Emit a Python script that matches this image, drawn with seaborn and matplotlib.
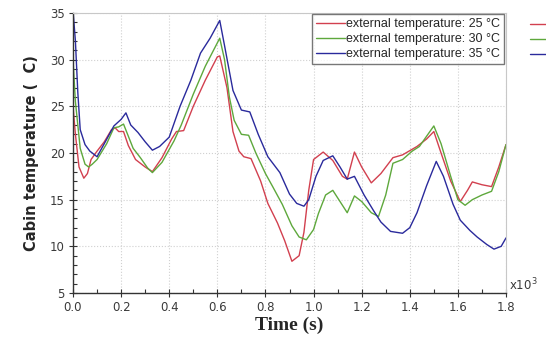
import pandas as pd
import matplotlib.pyplot as plt
import seaborn as sns
from matplotlib.ticker import MultipleLocator

# valori (tempo in s x10^3, temperatura in °C)
t_25 = [0.0, 0.01, 0.025, 0.045, 0.06, 0.075, 0.1, 0.13, 0.16, 0.175, 0.19, 0.21, 0.23, 0.26, 0.3, 0.33,
        0.37, 0.41, 0.43, 0.46, 0.5, 0.55, 0.6, 0.61, 0.64, 0.665, 0.69, 0.71, 0.74, 0.78, 0.81, 0.85,
        0.88, 0.91, 0.94, 0.96, 0.98, 1.0, 1.04, 1.08, 1.12, 1.14, 1.17, 1.2, 1.24, 1.28, 1.33, 1.37,
        1.43, 1.47, 1.5, 1.53, 1.57, 1.61, 1.64, 1.66, 1.7, 1.74, 1.77, 1.8]
temp_25 = [25.0, 22.0, 18.5, 17.3, 17.8, 19.3, 20.2, 21.2, 22.5, 22.7, 22.3, 22.3, 20.8, 19.3, 18.5, 18.0,
           19.5, 21.5, 22.3, 22.4, 25.0, 27.8, 30.3, 30.4, 27.0, 22.3, 20.2, 19.6, 19.4, 17.0, 14.6, 12.5,
           10.6, 8.4, 9.0, 11.5, 16.0, 19.3, 20.1, 19.2, 17.5, 17.2, 20.1, 18.5, 16.8, 17.8, 19.5, 19.8,
           20.7, 21.5, 22.3, 20.0, 17.0, 14.8, 16.0, 16.9, 16.6, 16.4, 18.5, 20.9]

t_30 = [0.0, 0.01, 0.03, 0.05, 0.065, 0.08, 0.1, 0.14, 0.17, 0.19, 0.21, 0.23, 0.25, 0.28, 0.31, 0.33,
        0.37, 0.42, 0.45, 0.5, 0.55, 0.61, 0.63, 0.65, 0.67, 0.7, 0.73, 0.76, 0.8, 0.83, 0.87, 0.91,
        0.94, 0.97, 1.0, 1.02, 1.05, 1.08, 1.11, 1.14, 1.17, 1.2, 1.24, 1.27, 1.3, 1.33, 1.37, 1.41,
        1.44, 1.47, 1.5, 1.53, 1.57, 1.6, 1.63, 1.66, 1.7, 1.74, 1.77, 1.8]
temp_30 = [30.0, 25.5, 20.5, 18.8, 18.5, 18.8, 19.3, 21.0, 22.7, 22.8, 23.1, 21.8, 20.5, 19.5, 18.4, 17.9,
           19.0, 21.3, 23.0, 26.3, 29.3, 32.3, 30.0, 26.0, 23.5, 22.0, 21.9, 20.0, 17.8, 16.4, 14.5, 12.2,
           11.0, 10.7, 11.8, 13.5, 15.5, 16.0, 14.8, 13.6, 15.4, 14.8, 13.6, 13.2, 15.5, 18.9, 19.3, 20.2,
           20.7, 21.8, 22.9, 21.0, 17.5, 15.0, 14.4, 15.0, 15.5, 15.9, 18.0, 20.9]

t_35 = [0.0, 0.01, 0.02, 0.03, 0.05, 0.07, 0.1, 0.13, 0.17, 0.2, 0.22, 0.24, 0.27, 0.3, 0.33, 0.36,
        0.4, 0.445, 0.49, 0.53, 0.57, 0.61, 0.63, 0.665, 0.7, 0.735, 0.77, 0.81, 0.86, 0.9, 0.93, 0.96,
        0.98, 1.01, 1.04, 1.08, 1.11, 1.14, 1.17, 1.21, 1.25, 1.28, 1.32, 1.37, 1.4, 1.43, 1.47, 1.51,
        1.54, 1.58, 1.61, 1.65, 1.68, 1.72, 1.75, 1.78, 1.8]
temp_35 = [35.3, 32.0, 26.5, 22.5, 20.9, 20.2, 19.6, 21.0, 22.9, 23.6, 24.3, 23.0, 22.2, 21.2, 20.3, 20.7,
           21.7, 25.0, 27.8, 30.7, 32.3, 34.2, 31.5, 26.7, 24.6, 24.4, 22.0, 19.6, 17.9, 15.6, 14.6, 14.3,
           15.0, 17.5, 19.2, 19.7, 18.5, 17.2, 17.5, 15.5, 13.8, 12.6, 11.6, 11.4, 12.0, 13.6, 16.5, 19.1,
           17.5, 14.5, 12.8, 11.7, 11.0, 10.2, 9.7, 10.0, 10.9]

etichette = ["external temperature: 25 °C", "external temperature: 30 °C", "external temperature: 35 °C"]
colori = ["#d2404f", "#5ea83c", "#2a2a9c"]

df = pd.concat([
    pd.DataFrame({"t": t_25, "T": temp_25, "serie": etichette[0]}),
    pd.DataFrame({"t": t_30, "T": temp_30, "serie": etichette[1]}),
    pd.DataFrame({"t": t_35, "T": temp_35, "serie": etichette[2]}),
])

sns.set_theme(style="white")
plt.rcParams['font.family'] = ['DejaVu Sans']

fig = plt.figure(figsize=(5.46, 3.41), dpi=100)
ax = fig.add_axes([73 / 546, 1 - 293 / 341, 433 / 546, 280 / 341])

sns.lineplot(data=df, x="t", y="T", hue="serie", hue_order=etichette, palette=colori,
             estimator=None, sort=False, linewidth=1.0, ax=ax)

ax.set_xlim(0, 1.8)
ax.set_ylim(5, 35)
ax.xaxis.set_major_locator(MultipleLocator(0.2))
ax.xaxis.set_minor_locator(MultipleLocator(0.1))
ax.yaxis.set_major_locator(MultipleLocator(5))
ax.yaxis.set_minor_locator(MultipleLocator(1))
ax.set_xticklabels([f"{v:.1f}" for v in ax.get_xticks()])
ax.grid(True, which="major", linestyle=":", color="#d0d0d0", linewidth=0.8)

ax.tick_params(which="major", direction="inout", length=6, width=0.8, color="#333333",
               labelsize=8.5, labelcolor="#3a3a3a", bottom=True, left=True, pad=3)
ax.tick_params(which="minor", direction="in", length=3, width=0.8, color="#333333", bottom=True, left=True)

for lato in ["left", "bottom"]:
    ax.spines[lato].set_color("#333333")
    ax.spines[lato].set_linewidth(1.0)
for lato in ["top", "right"]:
    ax.spines[lato].set_color("#c8c8c8")
    ax.spines[lato].set_linewidth(0.8)

ax.set_xlabel("Time (s)", fontsize=14, fontweight="bold", family="Liberation Serif", labelpad=2)
ax.set_ylabel("Cabin temperature (  C)", fontsize=10.5, fontweight="bold", labelpad=8)
ax.text(1.008, 0.008, r"x10$^{3}$", transform=ax.transAxes, fontsize=8.5, color="#3a3a3a")

leg = ax.legend(loc="upper right", bbox_to_anchor=(0.995, 0.995), frameon=True, fancybox=False,
                prop={"family": "Liberation Sans", "size": 9}, handlelength=2.3, handletextpad=0.1,
                labelspacing=0.25, borderpad=0.3, borderaxespad=0)
leg.get_frame().set_edgecolor("#555555")
leg.get_frame().set_linewidth(1.0)

# legenda duplicata tagliata sul bordo destro
fig.legend(leg.legend_handles, ["", "", ""], loc="upper left", bbox_to_anchor=(524 / 546, 1 - 12 / 341),
           frameon=False, handlelength=2, labelspacing=0.15, borderpad=0, prop={"size": 9})

fig.savefig("out.png", dpi=100)
